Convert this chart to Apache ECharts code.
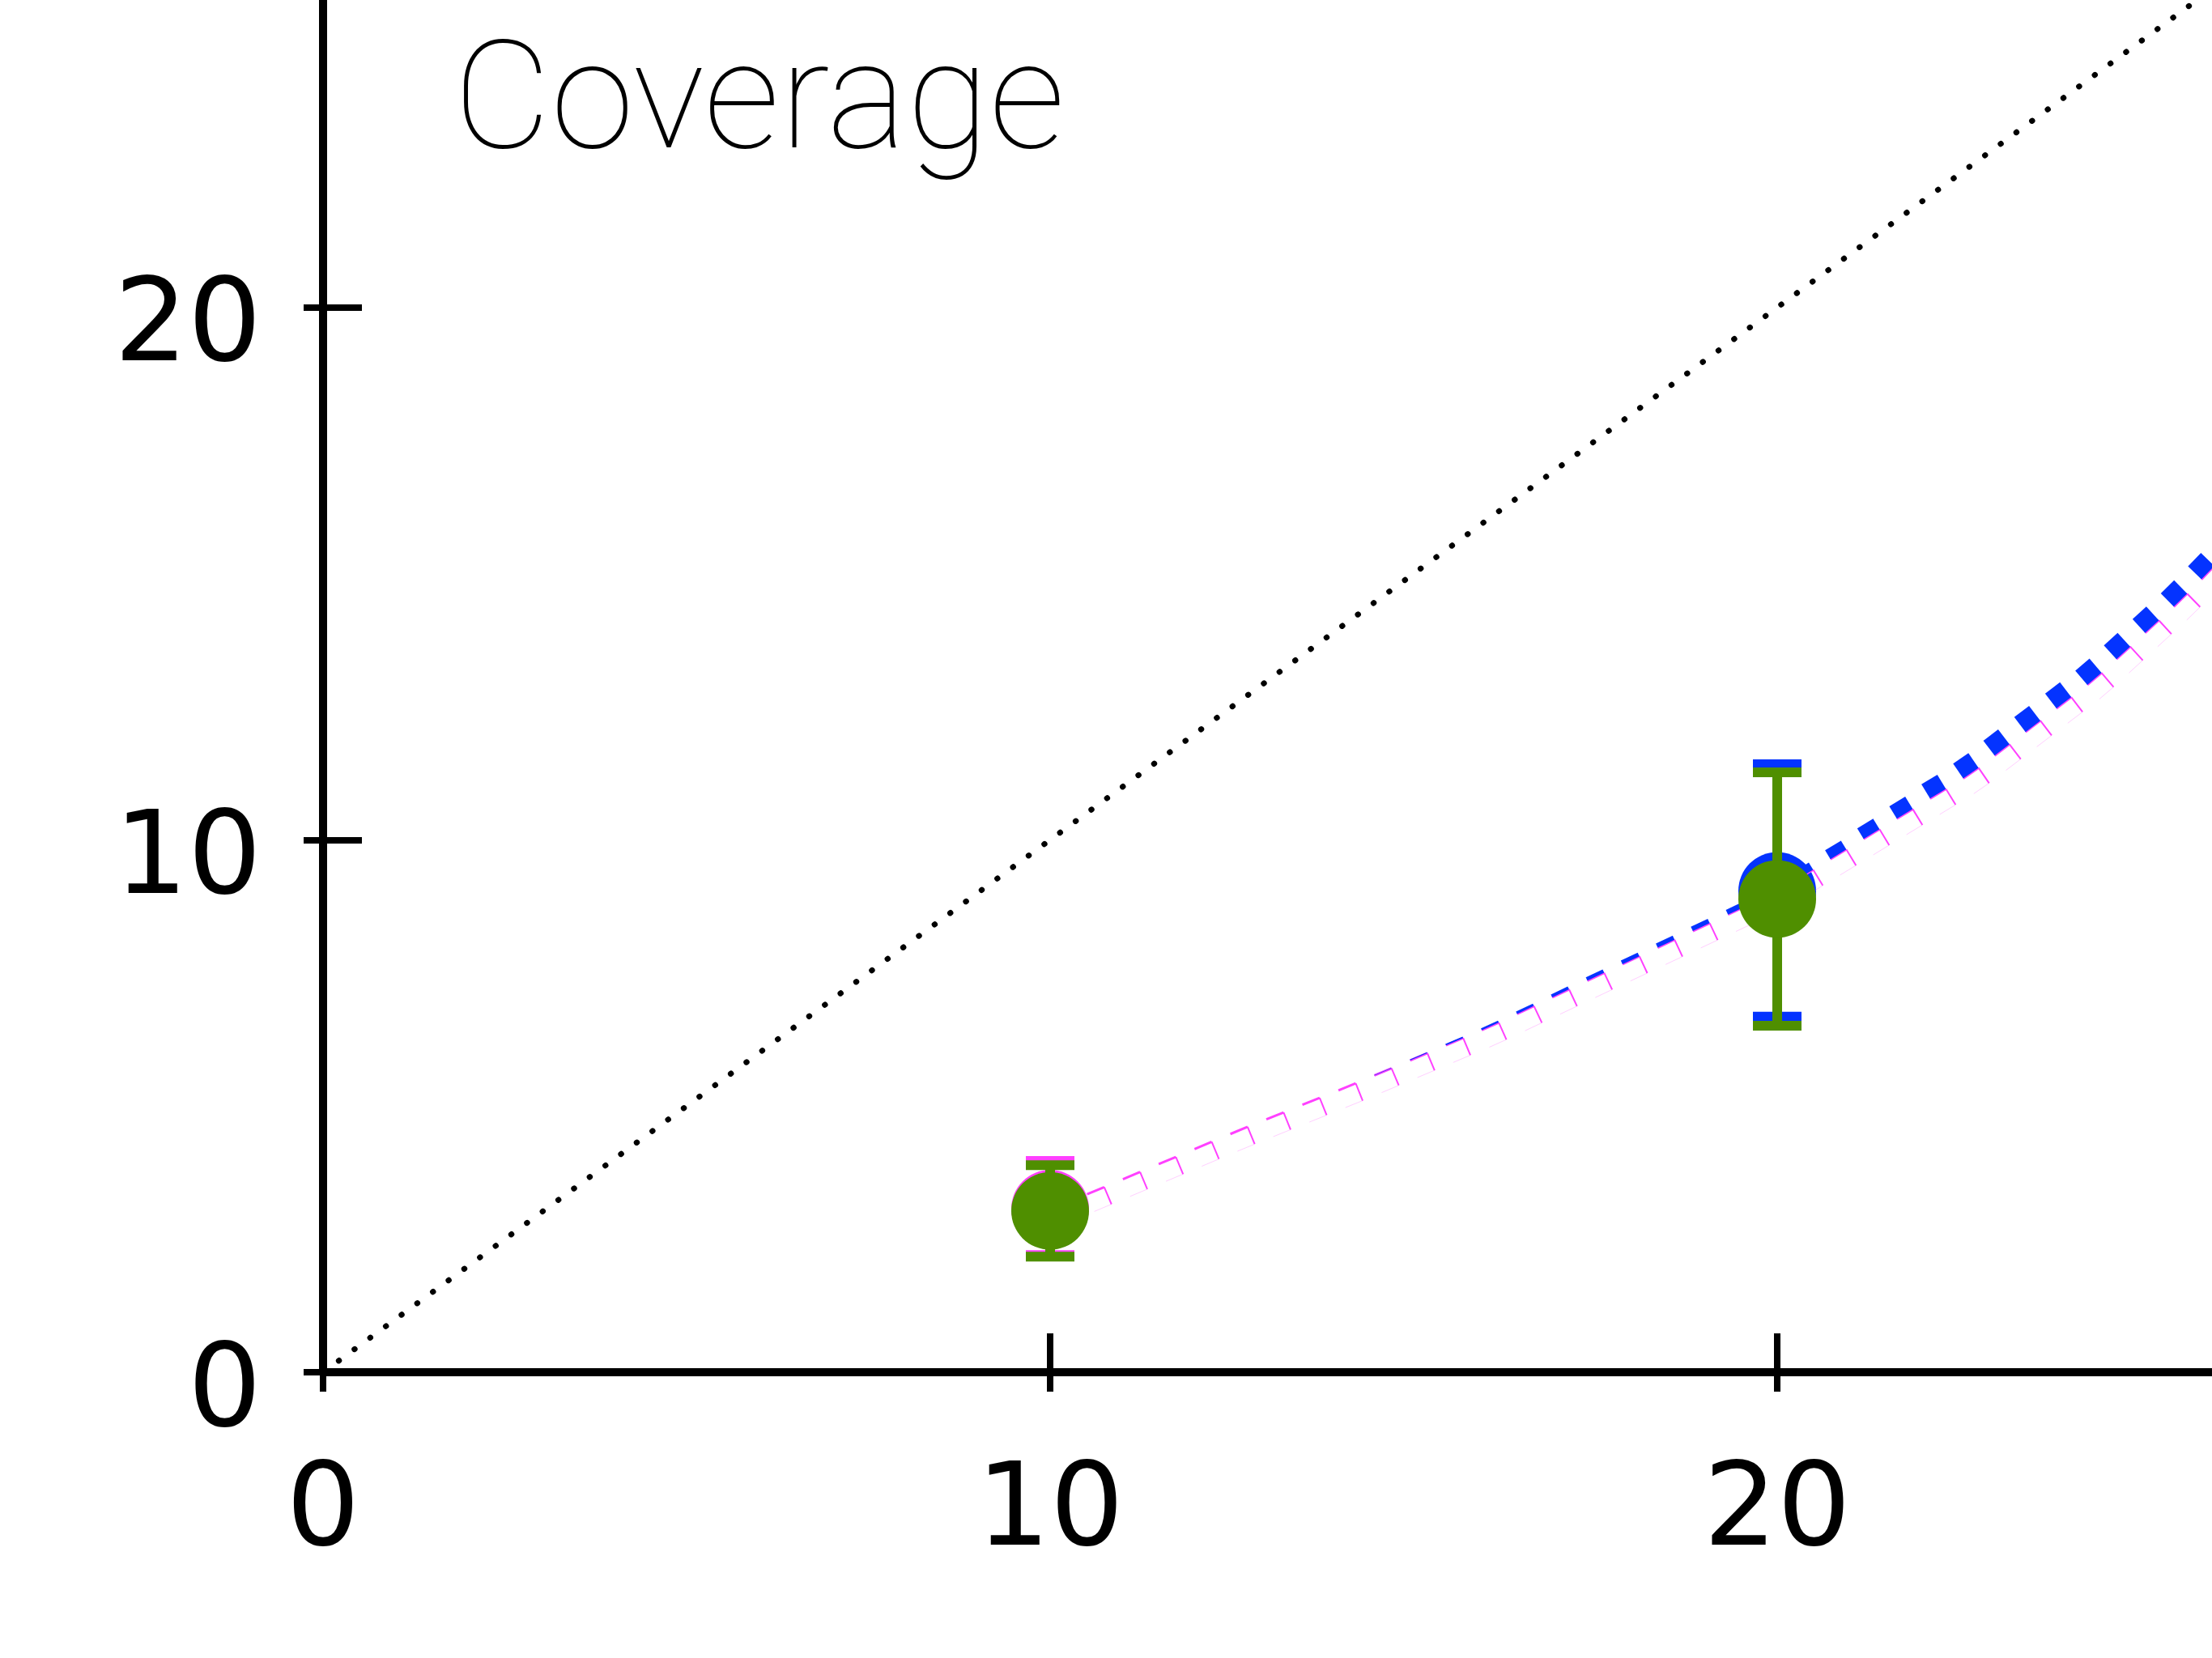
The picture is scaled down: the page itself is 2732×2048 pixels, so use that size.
<!DOCTYPE html>
<html><head><meta charset="utf-8">
<script src="https://cdn.jsdelivr.net/npm/echarts@6/dist/echarts.min.js"></script>
<style>
html,body{margin:0;padding:0;width:2732px;height:2048px;overflow:hidden;background:#fff}
#c{position:absolute;left:0;top:-320px;width:3200px;height:2368px}
</style></head>
<body><div id="c"></div>
<script>
// ---- data ----
const axisTicks = [0, 10, 20, 30];
const titleText = 'Coverage';

// reference diagonal y = x
const diagX = [0, 30];
const diagY = [0, 30];

// fitted curve (dashed blue / magenta trace)
const curveX = [10, 12.61, 14.21, 16.05, 17.49, 20, 22.66, 24.35, 25.51, 25.89, 26.05];
const curveY = [3.05, 4.55, 5.43, 6.49, 7.42, 9.03, 11.24, 13.0, 14.45, 14.97, 15.2];

// points with error bars
const magentaX = [10],     magentaY = [3.07],       magentaLow = [2.20],       magentaHigh = [3.97];
const blueX    = [20],     blueY    = [9.04],       blueLow    = [6.68],       blueHigh    = [11.42];
const greenX   = [10, 20], greenY   = [3.03, 8.89], greenLow   = [2.17, 6.51], greenHigh   = [3.89, 11.27];

// ---- styles ----
const C_MAG = '#FF40FF', C_BLUE = '#0433FF', C_GREEN = '#4F8F00';
const DASH = 23, PERIOD = 48, HOOK = 23;
const widthStops = [[10,0],[14,0],[15,1],[16,2.5],[17.5,4.5],[19.5,6.5],[20,8],[20.5,11],[21.1,14],[21.6,17],[22.3,21],[23,23],[30,23]];
function blueWidth(x){
  for (let i = 0; i < widthStops.length - 1; i++) {
    const a = widthStops[i], b = widthStops[i+1];
    if (x >= a[0] && x <= b[0]) return a[1] + (b[1]-a[1]) * (x - a[0]) / (b[0]-a[0]);
  }
  return x < widthStops[0][0] ? 0 : widthStops[widthStops.length-1][1];
}

function zip(xs, ys, lo, hi){ return xs.map((x,i)=> lo ? [x, ys[i], lo[i], hi[i]] : [x, ys[i]]); }

function errRender(color){
  return function(params, api){
    const x = api.value(0), lo = api.value(2), hi = api.value(3);
    const pLo = api.coord([x, lo]), pHi = api.coord([x, hi]);
    const capW = 60, capH = 12, stem = 12;
    return {type:'group', children:[
      {type:'rect', shape:{x:pLo[0]-stem/2, y:pHi[1], width:stem, height:pLo[1]-pHi[1]}, style:{fill:color}},
      {type:'rect', shape:{x:pHi[0]-capW/2, y:pHi[1]-capH/2, width:capW, height:capH}, style:{fill:color}},
      {type:'rect', shape:{x:pLo[0]-capW/2, y:pLo[1]-capH/2, width:capW, height:capH}, style:{fill:color}}
    ]};
  };
}

function traceRender(params, api){
  if (params.dataIndex !== 0) return null;
  const pts = curveX.map((x,i)=> api.coord([x, curveY[i]]));
  const segs = []; let total = 0;
  for (let i = 0; i < pts.length - 1; i++) {
    const a = pts[i], b = pts[i+1];
    const L = Math.hypot(b[0]-a[0], b[1]-a[1]);
    segs.push({a, b, L, s0: total, i}); total += L;
  }
  function at(s){
    let sg = segs[segs.length-1];
    for (const g of segs) { if (s <= g.s0 + g.L) { sg = g; break; } }
    const t = Math.max(0, Math.min(1, (s - sg.s0) / sg.L));
    return {
      p: [sg.a[0] + t*(sg.b[0]-sg.a[0]), sg.a[1] + t*(sg.b[1]-sg.a[1])],
      x: curveX[sg.i] + t*(curveX[sg.i+1]-curveX[sg.i])
    };
  }
  const mag = [], blue = [];
  for (let s = 1.5; s + 4 < total; s += PERIOD) {
    const A = at(s), B = at(Math.min(total, s + DASH));
    const dx = B.p[0]-A.p[0], dy = B.p[1]-A.p[1], L = Math.hypot(dx, dy);
    const u = [dx/L, dy/L], n = [-u[1], u[0]];
    const B2 = [B.p[0] + n[0]*HOOK, B.p[1] + n[1]*HOOK];
    const A2 = [A.p[0] + n[0]*HOOK, A.p[1] + n[1]*HOOK];
    mag.push({type:'line', shape:{x1:A.p[0], y1:A.p[1], x2:B.p[0], y2:B.p[1]}, style:{stroke:C_MAG, lineWidth:3}});
    mag.push({type:'line', shape:{x1:B.p[0], y1:B.p[1], x2:B2[0], y2:B2[1]}, style:{stroke:C_MAG, lineWidth:2}});
    mag.push({type:'line', shape:{x1:B2[0], y1:B2[1], x2:A2[0], y2:A2[1]}, style:{stroke:C_MAG, lineWidth:1, opacity:0.25}});
    const w = blueWidth((A.x + B.x) / 2);
    if (w > 0.3) {
      blue.push({type:'polygon', shape:{points:[
        [A.p[0], A.p[1]], [B.p[0], B.p[1]],
        [B.p[0] - n[0]*w, B.p[1] - n[1]*w], [A.p[0] - n[0]*w, A.p[1] - n[1]*w]
      ]}, style:{fill:C_BLUE}});
    }
  }
  return {type:'group', children: mag.concat(blue)};
}

const chart = echarts.init(document.getElementById('c'), null, {renderer:'canvas'});
const tickLine = {color:'#000', width:8};
const labelFont = {fontFamily:'DejaVu Sans', fontSize:143, color:'#000'};
const baseAxis = {type:'value', min:axisTicks[0], max:axisTicks[axisTicks.length-1], interval:10, splitLine:{show:false}};

chart.setOption({
  animation:false,
  backgroundColor:'#fff',
  title:{text:titleText, left:560, top:362, padding:0,
    textStyle:{fontFamily:'Roboto', fontWeight:100, fontSize:186, color:'#000'}},
  grid:{left:399, top:42.2, width:2694, height:1972.8, containLabel:false, outerBoundsMode:'none'},
  xAxis:[
    Object.assign({}, baseAxis, {position:'bottom',
      axisLine:{show:true, onZero:false, lineStyle:{color:'#000', width:10}},
      axisTick:{show:true, inside:false, length:24, lineStyle:tickLine},
      axisLabel:Object.assign({show:true, margin:104}, labelFont)}),
    Object.assign({}, baseAxis, {position:'bottom',
      axisLine:{show:false},
      axisTick:{show:true, inside:true, length:48, lineStyle:tickLine},
      axisLabel:{show:false}})
  ],
  yAxis:[
    Object.assign({}, baseAxis, {position:'left',
      axisLine:{show:true, onZero:false, lineStyle:{color:'#000', width:10}},
      axisTick:{show:true, inside:false, length:24, lineStyle:tickLine},
      axisLabel:Object.assign({show:true, margin:76, verticalAlign:'top', lineHeight:57}, labelFont)}),
    Object.assign({}, baseAxis, {position:'left',
      axisLine:{show:false},
      axisTick:{show:true, inside:true, length:48, lineStyle:tickLine},
      axisLabel:{show:false}})
  ],
  series:[
    {type:'line', data:zip(diagX, diagY), symbol:'none', z:1, silent:true,
      lineStyle:{color:'#000', width:7, type:[0.5, 23.5], cap:'round'}},
    {type:'custom', data:zip(magentaX, magentaY, magentaLow, magentaHigh), renderItem:errRender(C_MAG), z:2, silent:true},
    {type:'scatter', data:zip(magentaX, magentaY), symbol:'circle', symbolSize:96, itemStyle:{color:C_MAG, opacity:1}, z:3, silent:true},
    {type:'custom', data:zip(blueX, blueY, blueLow, blueHigh), renderItem:errRender(C_BLUE), z:4, silent:true},
    {type:'scatter', data:zip(blueX, blueY), symbol:'circle', symbolSize:96, itemStyle:{color:C_BLUE, opacity:1}, z:5, silent:true},
    {type:'custom', data:zip(curveX, curveY), renderItem:traceRender, z:6, silent:true, clip:false},
    {type:'custom', data:zip(greenX, greenY, greenLow, greenHigh), renderItem:errRender(C_GREEN), z:7, silent:true},
    {type:'scatter', data:zip(greenX, greenY), symbol:'circle', symbolSize:96, itemStyle:{color:C_GREEN, opacity:1}, z:8, silent:true}
  ]
});
</script>
</body></html>
